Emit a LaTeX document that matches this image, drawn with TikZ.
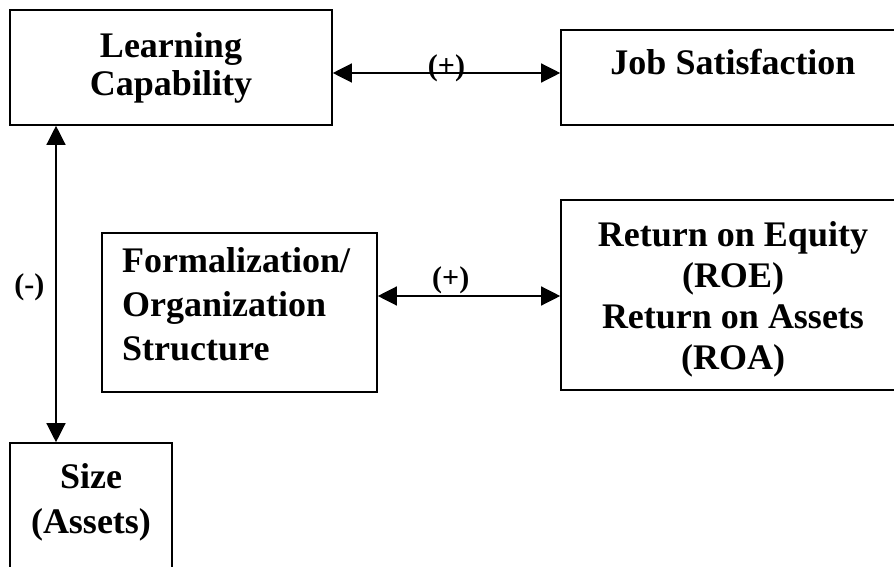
\documentclass[tikz,border=0pt]{standalone}
\usepackage{fontspec}
\setmainfont{Liberation Serif}
\usetikzlibrary{arrows.meta,positioning}

\tikzset{
  box/.style={draw=black, line width=1.6pt, inner sep=0pt},
  bigtxt/.style={font=\bfseries\fontsize{36}{41}\selectfont, align=center, inner sep=0pt},
  sgn/.style={font=\bfseries\fontsize{30}{34}\selectfont, inner sep=0pt},
  twoway/.style={{Triangle[length=19pt,width=19pt]}-{Triangle[length=19pt,width=19pt]}, line width=1.3pt}
}

\begin{document}
\begin{tikzpicture}[x=1pt,y=1pt]
\useasboundingbox (0,0) rectangle (894,566);
\clip (0,0) rectangle (894,566);

% boxes
\node[box, minimum width=322pt, minimum height=115pt] (learn) at (171,498.5) {};
\node[box, minimum width=344pt, minimum height=95pt]  (job)   at (733,488.5) {};
\node[box, minimum width=275pt, minimum height=159pt] (form)  at (239.5,253.5) {};
\node[box, minimum width=344pt, minimum height=190pt] (ret)   at (733,271) {};
\node[box, minimum width=162pt, minimum height=147pt] (size)  at (91,49.5) {};

% texts
\node[bigtxt] (learnTxt) at (171,498) {Learning\\[-3pt]Capability};
\node[bigtxt, anchor=base] (jobTxt) at (733,491) {Job Satisfaction};
\node[bigtxt, align=left, anchor=north west] (formTxt) at (122,319)
  {Formalization/\\[3pt]Organization\\[3pt]Structure};
\node[bigtxt] (retTxt) at (733,267)
  {Return on Equity\\(ROE)\\Return on Assets\\(ROA)};
\node[bigtxt] (sizeTxt) at (91,63.5) {Size\\[4pt](Assets)};

% links
\draw[twoway] ([yshift=-5.5pt]learn.east) -- ([yshift=4.5pt]job.west)
  node[sgn, midway, yshift=5pt] (plusTop) {(+)};
\draw[twoway] ([yshift=16.5pt]form.east) -- ([yshift=-1pt]ret.west)
  node[sgn, pos=.4, above=1.5pt] (plusMid) {(+)};
\draw[twoway] ([xshift=-115pt]learn.south) -- ([xshift=-35pt]size.north)
  node[sgn, midway, left=11pt, yshift=-3pt] (minus) {(-)};

\end{tikzpicture}
\end{document}
